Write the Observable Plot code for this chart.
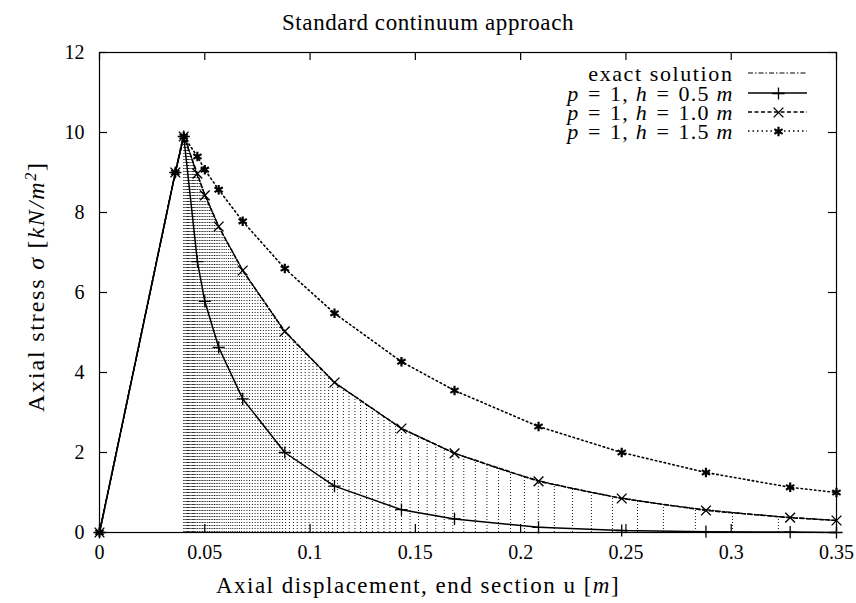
<!DOCTYPE html>
<html><head><meta charset="utf-8">
<script src="https://cdn.jsdelivr.net/npm/d3@7"></script>
<script src="https://cdn.jsdelivr.net/npm/@observablehq/plot@0.6"></script>
<style>
body{margin:0;background:#fff;}
#chart svg{font-family:"Liberation Serif","Times New Roman",serif;}
</style></head><body><div id="chart"></div>
<script>
// Numerical load steps (end-section displacement u [m]) shared by the three meshes
const uSteps   = [0, 0.036, 0.04, 0.0465, 0.050, 0.0566, 0.068, 0.088, 0.1116, 0.1434, 0.1686, 0.2085, 0.248, 0.288, 0.328, 0.35];
const sigmaH05 = [0, 9.0, 9.9, 6.77, 5.78, 4.63, 3.34, 2.0, 1.16, 0.57, 0.34, 0.13, 0.05, 0.02, 0.01, 0.0];
const sigmaH10 = [0, 9.0, 9.9, 8.97, 8.43, 7.65, 6.55, 5.03, 3.75, 2.6, 1.98, 1.28, 0.85, 0.55, 0.37, 0.3];
const sigmaH15 = [0, 9.0, 9.9, 9.4, 9.07, 8.57, 7.78, 6.6, 5.48, 4.27, 3.55, 2.65, 2.0, 1.5, 1.13, 1.0];

const uExact = [0, 0.04, 0.0406, 0.0412, 0.0418, 0.0423, 0.0429, 0.0435, 0.0441, 0.0447, 0.0452, 0.0458,
  0.0466, 0.0474, 0.0482, 0.0490, 0.0497, 0.0505, 0.0514, 0.0522, 0.0530, 0.0538, 0.0546, 0.0554, 0.0562,
  0.0571, 0.0582, 0.0592, 0.0602, 0.0613, 0.0623, 0.0633, 0.0644, 0.0654, 0.0665, 0.0675,
  0.0687, 0.0700, 0.0713, 0.0726, 0.0739, 0.0752, 0.0765, 0.0778, 0.0791, 0.0804, 0.0817, 0.0830, 0.0843, 0.0856, 0.0869,
  0.0884, 0.0902, 0.0921, 0.0939, 0.0958, 0.0977, 0.0995, 0.1014, 0.1032, 0.1051, 0.1070, 0.1088, 0.1107,
  0.1130, 0.1158, 0.1185, 0.1213, 0.1240, 0.1268, 0.1296, 0.1323, 0.1351, 0.1379, 0.1406, 0.1434,
  0.1475, 0.1515, 0.1556, 0.1597, 0.1637, 0.1678, 0.1730, 0.1785, 0.1840, 0.1895, 0.1952, 0.2018, 0.2084,
  0.2160, 0.2246, 0.2336, 0.2436, 0.2555, 0.2678, 0.2830, 0.3006, 0.3224, 0.3500];
const sigmaExact = [0, 10, 9.9, 9.8, 9.7, 9.6, 9.5, 9.4, 9.3, 9.2, 9.1, 9.0,
  8.9, 8.8, 8.7, 8.6, 8.5, 8.4, 8.3, 8.2, 8.1, 8.0, 7.9, 7.8, 7.7,
  7.6, 7.5, 7.4, 7.3, 7.2, 7.1, 7.0, 6.9, 6.8, 6.7, 6.6,
  6.5, 6.4, 6.3, 6.2, 6.1, 6.0, 5.9, 5.8, 5.7, 5.6, 5.5, 5.4, 5.3, 5.2, 5.1,
  5.0, 4.9, 4.8, 4.7, 4.6, 4.5, 4.4, 4.3, 4.2, 4.1, 4.0, 3.9, 3.8,
  3.7, 3.6, 3.5, 3.4, 3.3, 3.2, 3.1, 3.0, 2.9, 2.8, 2.7, 2.6,
  2.5, 2.4, 2.3, 2.2, 2.1, 2.0, 1.9, 1.8, 1.7, 1.6, 1.5, 1.4, 1.3,
  1.2, 1.1, 1.0, 0.9, 0.8, 0.7, 0.6, 0.5, 0.4, 0.3];

const xTicks = [0, 0.05, 0.1, 0.15, 0.2, 0.25, 0.3, 0.35];
const yTicks = [0, 2, 4, 6, 8, 10, 12];
const legendLabels = ["exact solution", "p = 1, h = 0.5 m", "p = 1, h = 1.0 m", "p = 1, h = 1.5 m"];
const titleText = "Standard continuum approach";
const xLabel = "Axial displacement, end section u [m]";
const yLabel = "Axial stress σ [kN/m2]";

const series = (s) => uSteps.map((u, i) => ({u, s: s[i]}));
const d05 = series(sigmaH05), d10 = series(sigmaH10), d15 = series(sigmaH15);
const exact = uExact.map((u, i) => ({u, s: sigmaExact[i]}));

const W = 856, H = 603, mL = 99, mR = 20, mT = 52, mB = 71;
const X0 = 0, X1 = 0.35, Y0 = 0, Y1 = 12;
const TICK = 8;
const tx = (X1 - X0) * TICK / (W - mL - mR);
const ty = (Y1 - Y0) * TICK / (H - mT - mB);

const styles = [
  {dash: "5,2,1.5,2", w: 1.2, sym: null},
  {dash: null, w: 1.5, sym: "plus", r: 4, sw: 1.3},
  {dash: "4,2.5", w: 1.5, sym: "times", r: 4.5, sw: 1.4},
  {dash: "1.5,3", w: 1.6, sym: "asterisk", r: 4.5, sw: 2.2}
];
const legendRowsDy = [21, 41, 60, 79];

const svg = Plot.plot({
  width: W, height: H,
  marginLeft: mL, marginRight: mR, marginTop: mT, marginBottom: mB,
  x: {domain: [X0, X1]}, y: {domain: [Y0, Y1]},
  style: {fontFamily: "Liberation Serif, serif", fontSize: "20px", background: "white", color: "black", overflow: "visible"},
  marks: [
    Plot.ruleX(exact.filter(d => d.u >= 0.04), {x: "u", y1: 0, y2: "s", stroke: "#000", strokeWidth: 0.9, strokeDasharray: "1,2"}),
    Plot.line(exact, {x: "u", y: "s", stroke: "#000", strokeWidth: styles[0].w, strokeDasharray: styles[0].dash}),
    Plot.line(d05, {x: "u", y: "s", stroke: "#000", strokeWidth: styles[1].w}),
    Plot.line(d10, {x: "u", y: "s", stroke: "#000", strokeWidth: styles[2].w, strokeDasharray: styles[2].dash}),
    Plot.line(d15, {x: "u", y: "s", stroke: "#000", strokeWidth: styles[3].w, strokeDasharray: styles[3].dash}),
    Plot.dot(d05, {x: "u", y: "s", symbol: "plus", r: styles[1].r, stroke: "#000", strokeWidth: styles[1].sw}),
    Plot.dot(d10, {x: "u", y: "s", symbol: "times", r: styles[2].r, stroke: "#000", strokeWidth: styles[2].sw}),
    Plot.dot(d15, {x: "u", y: "s", symbol: "asterisk", r: styles[3].r, stroke: "#000", strokeWidth: styles[3].sw}),
    Plot.frame({stroke: "#000", strokeWidth: 1.2}),
    // inward ticks on all four sides
    Plot.ruleX(xTicks, {x: d => d, y1: Y0, y2: Y0 + ty, stroke: "#000", strokeWidth: 1.2}),
    Plot.ruleX(xTicks, {x: d => d, y1: Y1, y2: Y1 - ty, stroke: "#000", strokeWidth: 1.2}),
    Plot.ruleY(yTicks, {y: d => d, x1: X0, x2: X0 + tx, stroke: "#000", strokeWidth: 1.2}),
    Plot.ruleY(yTicks, {y: d => d, x1: X1, x2: X1 - tx, stroke: "#000", strokeWidth: 1.2}),
    Plot.axisX(xTicks, {tickSize: 0, tickPadding: 12, tickFormat: d => String(d), fontSize: 20, label: null}),
    Plot.axisY(yTicks, {tickSize: 0, tickPadding: 15, tickFormat: d => String(d), fontSize: 20, label: null}),
    Plot.text([titleText], {frameAnchor: "top", dx: -40, dy: -30, fontSize: 23, lineAnchor: "middle"}),
    Plot.text([xLabel], {frameAnchor: "bottom", dx: -50, dy: 53, fontSize: 23, lineAnchor: "middle"}),
    Plot.text([yLabel], {frameAnchor: "left", dx: -63, dy: -6, rotate: -90, textAnchor: "middle", fontSize: 24, lineAnchor: "middle"}),
    // legend
    ...legendLabels.map((lab, i) => Plot.text([lab], {frameAnchor: "top-right", dx: -103, dy: legendRowsDy[i], textAnchor: "end", lineAnchor: "middle", fontSize: 22})),
    ...styles.map((st, i) => st.sym ? Plot.dot([0], {frameAnchor: "top-right", dx: -58, dy: legendRowsDy[i], symbol: st.sym, r: st.r, stroke: "#000", strokeWidth: st.sw}) : null).filter(Boolean)
  ]
});

// legend sample lines
const g = d3.select(svg).append("g");
styles.forEach((st, i) => {
  const y = mT + legendRowsDy[i];
  g.append("line").attr("x1", W - mR - 88).attr("x2", W - mR - 29).attr("y1", y).attr("y2", y)
    .attr("stroke", "#000").attr("stroke-width", st.w).attr("stroke-dasharray", st.dash);
});
svg.insertBefore(g.node(), svg.querySelector("g[aria-label='frame']"));

// italic math parts and letter spacing to mimic the wider Computer Modern face
function rich(match, parts, spacing) {
  d3.select(svg).selectAll("text").filter(function () { return this.textContent === match; }).each(function () {
    const t = d3.select(this);
    t.attr("letter-spacing", spacing);
    if (!parts) return;
    t.text(null);
    for (const [s, st] of parts) {
      const ts = t.append("tspan").text(s);
      if (st === "i") ts.attr("font-style", "italic");
      if (st === "sup") ts.attr("font-style", "italic").attr("font-size", "16px").attr("dy", "-8px");
      if (st === "down") ts.attr("dy", "8px");
    }
  });
}
const eq = "\u2004=\u2004";
for (const h of ["0.5", "1.0", "1.5"]) {
  rich(`p = 1, h = ${h} m`, [["p", "i"], [eq + "1, ", ""], ["h", "i"], [eq + h + " ", ""], ["m", "i"]], 1.2);
}
rich("exact solution", null, 1.6);
rich(titleText, null, 0.6);
rich(xLabel, [["Axial displacement, end section u [", ""], ["m", "i"], ["]", ""]], 1.5);
rich(yLabel, [["Axial stress ", ""], ["σ", "i"], [" [", ""], ["kN/m", "i"], ["2", "sup"], ["]", "down"]], 1.8);

document.getElementById("chart").appendChild(svg);
</script>
</body></html>
